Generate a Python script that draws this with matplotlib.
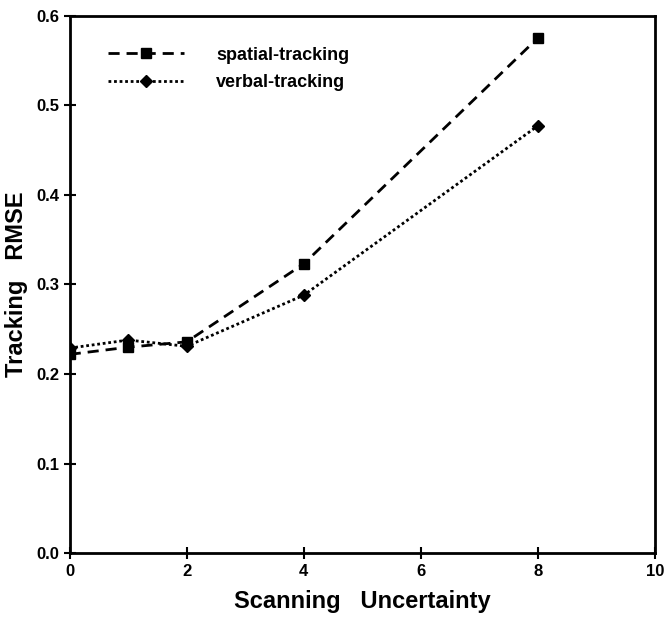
import matplotlib.pyplot as plt

plt.rcParams['font.family'] = ['Liberation Sans', 'DejaVu Sans']

uncertainty = [0, 1, 2, 4, 8]
spatial_rmse = [0.222, 0.230, 0.236, 0.323, 0.575]
verbal_rmse = [0.229, 0.238, 0.231, 0.288, 0.477]

fig = plt.figure(figsize=(6.64, 6.28), dpi=100)
ax = fig.add_axes([0.105, 0.119, 0.881, 0.856])

ax.plot(uncertainty, spatial_rmse, linestyle=(0, (4, 2.5)), color='black', lw=2,
        marker='s', markersize=6.5, label="spatial-tracking")
ax.plot(uncertainty, verbal_rmse, linestyle=(0, (1, 1)), color='black', lw=2,
        marker='D', markersize=6.5, label="verbal-tracking")

ax.set_xlim(0, 10)
ax.set_ylim(0, 0.6)
ax.set_xticks([0, 2, 4, 6, 8, 10])
ax.set_yticks([0.0, 0.1, 0.2, 0.3, 0.4, 0.5, 0.6])
ax.set_yticklabels(["0.0", "0.1", "0.2", "0.3", "0.4", "0.5", "0.6"])
ax.tick_params(direction='inout', length=8, width=1.5, labelsize=12)
for lab in ax.get_xticklabels() + ax.get_yticklabels():
    lab.set_fontweight('bold')
for s in ax.spines.values():
    s.set_linewidth(2)

ax.set_xlabel("Scanning   Uncertainty", fontsize=17, fontweight='bold', labelpad=8)
ax.set_ylabel("Tracking   RMSE", fontsize=17, fontweight='bold', labelpad=6)

leg = ax.legend(loc='upper left', bbox_to_anchor=(0.053, 0.956), borderaxespad=0,
                frameon=False, fontsize=13, handlelength=4.2,
                handletextpad=1.8, labelspacing=0.6)
for t in leg.get_texts():
    t.set_fontweight('bold')

plt.savefig("out.png", dpi=100)
